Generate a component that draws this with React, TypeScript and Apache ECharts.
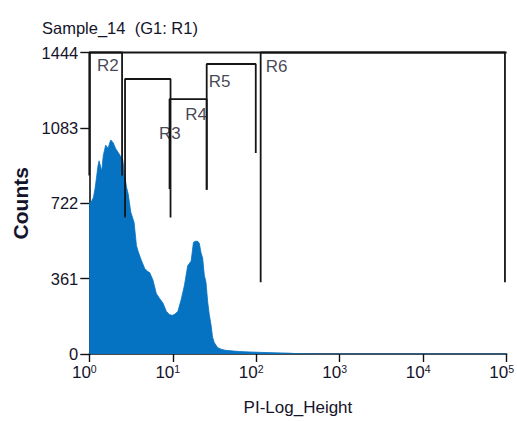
import React, { useEffect, useRef } from "react";
import * as echarts from "echarts";

const chartTitle = "Sample_14  (G1: R1)";
const xAxisName = "PI-Log_Height";
const yAxisName = "Counts";
const yTicks = [0, 361, 722, 1083, 1444];
const xMin = 1;
const xMax = 100000;

// histogram: PI-Log_Height value, counts
const binValues = [
  1.0, 1.06, 1.12, 1.17, 1.22, 1.27, 1.31, 1.36, 1.41, 1.47,
  1.57, 1.68, 1.77, 1.81, 1.93, 2.06, 2.22, 2.39, 2.52, 2.62,
  2.79, 2.92, 3.14, 3.44, 3.67, 3.86, 4.19, 4.61, 5.0, 5.29,
  5.78, 6.35, 6.95, 7.62, 8.36, 9.15, 9.93, 10.5, 11.5, 12.6,
  13.8, 15.1, 16.6, 17.7, 18.7, 19.9, 20.8, 21.8, 22.8, 23.9,
  25.0, 26.2, 27.4, 28.7, 30.0, 31.4, 34.4, 37.8, 42.5, 50.1,
  62.4, 82.1, 108, 163, 246, 324, 560, 100000,
];
const binCounts = [
  723, 730, 750, 790, 845, 900, 925, 900, 875, 950,
  1000, 985, 1015, 1025, 1012, 985, 965, 945, 930, 870,
  800, 767, 680, 630, 520, 490, 450, 410, 395, 390,
  355, 290, 266, 244, 205, 188, 185, 190, 203, 260,
  329, 423, 445, 535, 540, 540, 530, 485, 460, 376,
  344, 250, 188, 141, 80, 55, 31, 23, 18, 15,
  12, 10, 8, 6, 4, 1, 0, 0,
];

// gates (regions)
const gateNames = ["R2", "R3", "R4", "R5", "R6"];
const gateLeft = [1.0, 2.68, 9.15, 25.5, 113];
const gateRight = [2.47, 9.4, 25.5, 98.7, 95500];
const gateTop = [1444, 1317, 1221, 1389, 1444];
const gateBottomLeft = [855, 654, 790, 787, 344];
const gateBottomRight = [855, 654, 787, 963, 344];
const gateLabelX = [1.235, 6.82, 14.1, 26.9, 130];
const gateLabelY = [1381, 1055, 1145, 1305, 1377];

const TEXT = "#14142a";
const FONT = "'Liberation Sans', Arial, sans-serif";

export default function App() {
  const ref = useRef<HTMLDivElement>(null);
  useEffect(() => {
    if (!ref.current) return;
    const chart = echarts.init(ref.current, undefined, { renderer: "svg" });
    const histData = binValues.map((v, i) => [v, binCounts[i]]);
    const gateSeries = gateNames.map((name, i) => ({
      type: "line",
      name,
      data: [
        [gateLeft[i], gateBottomLeft[i]],
        [gateLeft[i], gateTop[i]],
        [gateRight[i], gateTop[i]],
        [gateRight[i], gateBottomRight[i]],
      ],
      showSymbol: false,
      symbol: "none",
      clip: false,
      lineStyle: { color: "#151515", width: 1.8 },
      z: 5,
      silent: true,
    }));
    const supDigits = ["0", "1", "2", "3", "4", "5"];
    chart.setOption({
      animation: false,
      textStyle: { fontFamily: FONT },
      title: {
        text: chartTitle,
        left: 37,
        top: 14,
        textStyle: { fontSize: 16.5, fontWeight: "normal", color: TEXT, fontFamily: FONT },
      },
      grid: { left: 89.3, right: 8, top: 52.5, bottom: 60.5, containLabel: false },
      xAxis: {
        type: "log",
        logBase: 10,
        min: xMin,
        max: xMax,
        name: xAxisName,
        nameLocation: "middle",
        nameGap: 45,
        nameTextStyle: { fontSize: 17, color: TEXT, fontFamily: FONT },
        axisLine: { lineStyle: { color: "#111", width: 1.6 } },
        axisTick: { show: true, length: 8, lineStyle: { color: "#111", width: 1.4 } },
        minorTick: { show: false },
        splitLine: { show: false },
        axisLabel: {
          margin: 9,
          padding: [0, 10, 0, 0],
          formatter: (v: number) => {
            const e = Math.round(Math.log10(v));
            return `{b|10}{s|${supDigits[e]}}`;
          },
          rich: {
            b: { fontSize: 17, color: TEXT, fontFamily: FONT, lineHeight: 19 },
            s: { fontSize: 10.5, color: TEXT, fontFamily: FONT, verticalAlign: "top" },
          },
        },
      },
      yAxis: {
        type: "value",
        min: 0,
        max: yTicks[yTicks.length - 1],
        interval: yTicks[1] - yTicks[0],
        name: yAxisName,
        nameLocation: "middle",
        nameGap: 58,
        nameTextStyle: { fontSize: 21, fontWeight: 600, color: TEXT, fontFamily: FONT },
        axisLine: { show: true, lineStyle: { color: "#111", width: 1.6 } },
        axisTick: { show: true, length: 9, lineStyle: { color: "#111", width: 1.4 } },
        splitLine: { show: false },
        axisLabel: {
          margin: 11,
          fontSize: 16.5,
          color: TEXT,
          fontFamily: FONT,
          formatter: (v: number) => String(v),
        },
      },
      series: [
        {
          type: "line",
          name: "hist",
          data: histData,
          showSymbol: false,
          symbol: "none",
          lineStyle: { color: "#0672c2", width: 0.8 },
          areaStyle: { color: "#0672c2", opacity: 1, origin: "start" },
          z: 2,
          silent: true,
        },
        {
          type: "line",
          name: "top",
          data: [
            [xMin, yTicks[yTicks.length - 1]],
            [xMax, yTicks[yTicks.length - 1]],
          ],
          showSymbol: false,
          symbol: "none",
          clip: false,
          lineStyle: { color: "#151515", width: 2.2 },
          z: 5,
          silent: true,
        },
        ...gateSeries,
        {
          type: "scatter",
          name: "labels",
          data: gateNames.map((n, i) => ({ value: [gateLabelX[i], gateLabelY[i]], name: n })),
          symbolSize: 0,
          silent: true,
          z: 6,
          label: {
            show: true,
            position: "right",
            distance: 0,
            formatter: (p: any) => p.name,
            fontSize: 17,
            color: TEXT,
            fontFamily: FONT,
          },
        },
      ],
    });
    return () => chart.dispose();
  }, []);
  return (
    <div
      ref={ref}
      style={{ position: "fixed", left: 0, top: 0, width: 517, height: 421, background: "#fff" }}
    />
  );
}
